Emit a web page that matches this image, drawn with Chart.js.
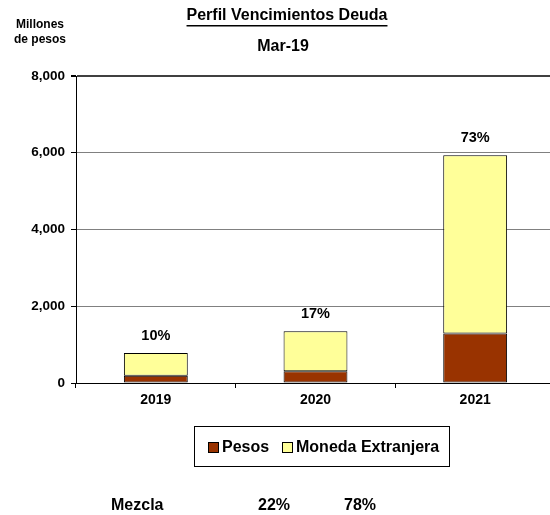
<!DOCTYPE html>
<html>
<head>
<meta charset="utf-8">
<script src="https://cdn.jsdelivr.net/npm/chart.js@4/dist/chart.umd.min.js"></script>
<style>
html,body{margin:0;padding:0;background:#fff;overflow:hidden;width:550px;height:515px;}
#wrap{position:absolute;left:0;top:0;width:556px;height:515px;}
</style>
</head>
<body>
<div id="wrap"><canvas id="c" width="556" height="515"></canvas></div>
<script>
const categories = ['2019', '2020', '2021'];
const pesos = [190, 305, 1290];
const monedaExtranjera = [592, 1042, 4643];
const shareLabels = ['10%', '17%', '73%'];
const mezclaLabels = ['22%', '78%'];
const yTicks = [0, 2000, 4000, 6000, 8000];
const seriesNames = ['Pesos', 'Moneda Extranjera'];
const titleText = 'Perfil Vencimientos Deuda';
const subtitleText = 'Mar-19';
const unitLines = ['Millones', 'de pesos'];
const mezclaText = 'Mezcla';

const FONT = '"Liberation Sans", Arial, sans-serif';
const colors = ['#993300', '#FFFF99'];

const decor = {
  id: 'decor',
  afterDraw(chart) {
    const ctx = chart.ctx;
    ctx.save();
    ctx.fillStyle = '#000';
    ctx.textBaseline = 'middle';
    ctx.textAlign = 'center';
    // Title with underline
    ctx.font = 'bold 16px ' + FONT;
    const tx = 287, ty = 16;
    ctx.fillText(titleText, tx, ty);
    const tw = ctx.measureText(titleText).width;
    ctx.fillRect(tx - tw / 2, ty + 9, tw, 1.5);
    ctx.fillText(subtitleText, 283, 47);
    // units
    ctx.font = 'bold 12px ' + FONT;
    ctx.fillText(unitLines[0], 40, 25);
    ctx.fillText(unitLines[1], 40, 40);
    // share labels above bars
    ctx.font = 'bold 14.5px ' + FONT;
    const meta = chart.getDatasetMeta(1);
    meta.data.forEach((bar, i) => {
      ctx.fillText(shareLabels[i], bar.x, bar.y - 17);
    });
    // Legend box
    ctx.strokeStyle = '#000';
    ctx.lineWidth = 1;
    ctx.strokeRect(194.5, 426.5, 255, 40);
    ctx.font = 'bold 16px ' + FONT;
    ctx.textAlign = 'left';
    const items = [{x: 208.5, name: seriesNames[0], c: colors[0]}, {x: 282.5, name: seriesNames[1], c: colors[1]}];
    items.forEach(it => {
      ctx.fillStyle = it.c;
      ctx.fillRect(it.x, 442.5, 10, 10);
      ctx.strokeRect(it.x, 442.5, 10, 10);
      ctx.fillStyle = '#000';
      ctx.fillText(it.name, it.x + 13.5, 448);
    });
    // Mezcla row
    ctx.fillText(mezclaText, 111, 506);
    ctx.textAlign = 'center';
    ctx.fillText(mezclaLabels[0], 274, 506);
    ctx.fillText(mezclaLabels[1], 360, 506);
    ctx.restore();
  }
};

new Chart(document.getElementById('c'), {
  type: 'bar',
  data: {
    labels: categories,
    datasets: [
      {label: seriesNames[0], data: pesos, backgroundColor: colors[0], borderColor: '#000', borderWidth: 1, borderSkipped: false},
      {label: seriesNames[1], data: monedaExtranjera, backgroundColor: colors[1], borderColor: '#000', borderWidth: 1, borderSkipped: false}
    ]
  },
  options: {
    responsive: false,
    animation: false,
    devicePixelRatio: 1,
    layout: {padding: {left: 0, right: 1, top: 76, bottom: 0}},
    plugins: {legend: {display: false}, title: {display: false}, tooltip: {enabled: false}},
    datasets: {bar: {categoryPercentage: 1, barPercentage: 0.40}},
    scales: {
      x: {
        stacked: true,
        afterFit(s) { s.height = 132; },
        grid: {offset: true, drawOnChartArea: false, drawTicks: true, tickLength: 5, tickColor: '#000'},
        border: {color: '#000', width: 1},
        ticks: {color: '#000', font: {family: FONT, size: 14, weight: 'bold'}, padding: 4}
      },
      y: {
        stacked: true,
        min: 0, max: 8000,
        afterFit(s) { s.width = 76; },
        afterBuildTicks(s) { s.ticks = yTicks.map(v => ({value: v})); },
        grid: {color: ctx => ctx.tick && ctx.tick.value === 8000 ? '#404040' : '#808080', lineWidth: ctx => ctx.tick && ctx.tick.value === 8000 ? 2 : 1, drawTicks: true, tickLength: 5, tickColor: '#000'},
        border: {color: '#000', width: 1},
        ticks: {color: '#000', font: {family: FONT, size: 13.5, weight: 'bold'}, padding: 6,
          callback: v => v.toLocaleString('en-US')}
      }
    }
  },
  plugins: [decor]
});
</script>
</body>
</html>
